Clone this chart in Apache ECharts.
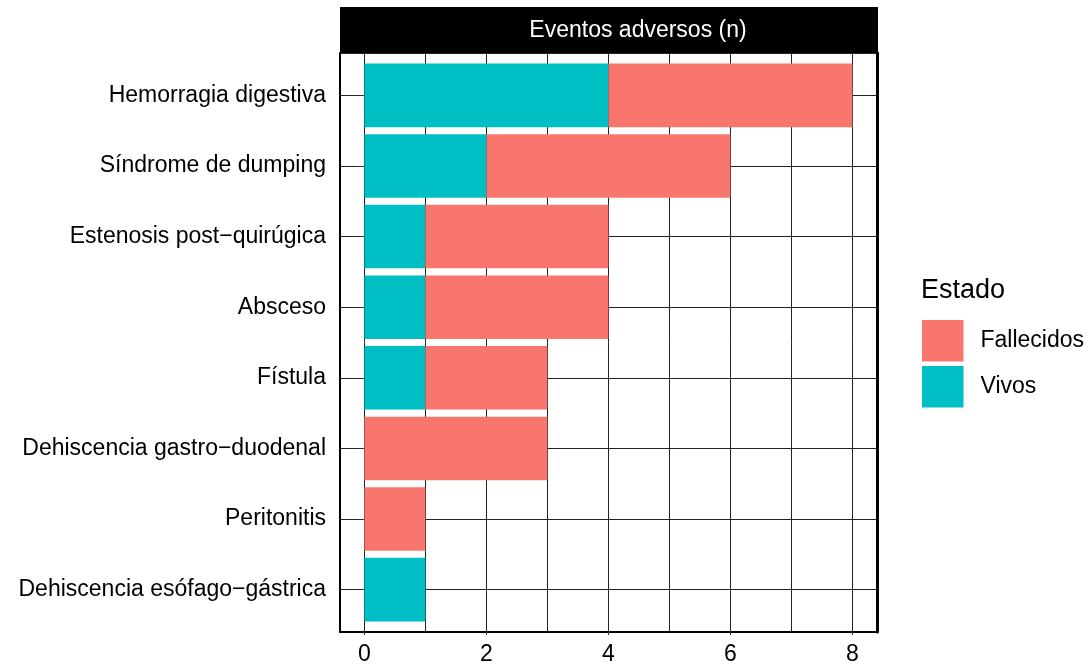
<!DOCTYPE html>
<html>
<head>
<meta charset="utf-8">
<script src="https://cdn.jsdelivr.net/npm/echarts@6/dist/echarts.min.js"></script>
<style>
html,body{margin:0;padding:0;background:#fff;}
#c{width:1089px;height:666px;}
</style>
</head>
<body>
<div id="c"></div>
<script>
const categories = ['Hemorragia digestiva','Síndrome de dumping','Estenosis post\u2212quirúgica','Absceso','Fístula','Dehiscencia gastro\u2212duodenal','Peritonitis','Dehiscencia esófago\u2212gástrica'];
const vivos = [4,2,1,1,1,0,0,1];
const fallecidos = [4,4,3,3,2,3,1,0];
const xTickValues = [0,2,4,6,8];
const stripTitle = 'Eventos adversos (n)';
const legendTitle = 'Estado';

const FONT = '"Liberation Sans", Arial, Helvetica, sans-serif';
const FS = 23;
const panelL = 340, panelT = 53, panelW = 536.8, panelH = 579;
const xMin = -0.4, xMax = 8.4;
const unitX = panelW / (xMax - xMin);
const yExpand = 0.6;
const unitY = panelH / (categories.length - 1 + 2 * yExpand);
const barsTop = panelT + (yExpand - 0.5) * unitY;
const barsH = categories.length * unitY;

const chart = echarts.init(document.getElementById('c'), null, {renderer: 'canvas'});
const option = {
  animation: false,
  backgroundColor: '#ffffff',
  textStyle: {fontFamily: FONT},
  grid: [
    {left: panelL, top: panelT, width: panelW, height: panelH, containLabel: false},
    {left: panelL, top: barsTop, width: panelW, height: barsH, containLabel: false},
    {left: panelL + (0 - xMin) * unitX, top: panelT, width: 8 * unitX, height: panelH, containLabel: false}
  ],
  xAxis: [
    {gridIndex: 0, type: 'value', min: xMin, max: xMax, minInterval: 1, maxInterval: 1,
     axisLine: {show: true, onZero: false, lineStyle: {color: '#000', width: 2}},
     axisTick: {show: false}, axisLabel: {show: false},
     splitLine: {show: true, lineStyle: {color: '#222', width: 1}}},
    {gridIndex: 1, type: 'value', min: xMin, max: xMax, show: false},
    {gridIndex: 2, type: 'value', min: xTickValues[0], max: xTickValues[xTickValues.length - 1], interval: 2, position: 'bottom',
     axisLine: {show: false},
     axisTick: {show: true, length: 6, lineStyle: {color: '#333', width: 1}},
     axisLabel: {show: true, fontSize: FS, color: '#000', margin: 14, fontFamily: FONT},
     splitLine: {show: false}}
  ],
  yAxis: [
    {gridIndex: 0, type: 'value', min: -yExpand, max: categories.length - 1 + yExpand, inverse: true,
     minInterval: 1, maxInterval: 1,
     axisLine: {show: true, onZero: false, lineStyle: {color: '#000', width: 2}},
     axisTick: {show: false}, axisLabel: {show: false},
     splitLine: {show: true, lineStyle: {color: '#222', width: 1}}},
    {gridIndex: 0, type: 'value', position: 'right', min: -yExpand, max: categories.length - 1 + yExpand,
     axisLine: {show: true, onZero: false, lineStyle: {color: '#000', width: 3}},
     axisTick: {show: false}, axisLabel: {show: false}, splitLine: {show: false}},
    {gridIndex: 1, type: 'category', data: categories, inverse: true,
     axisLine: {show: false},
     axisTick: {show: true, alignWithLabel: true, length: 7, lineStyle: {color: '#333', width: 1}},
     axisLabel: {show: true, fontSize: FS, color: '#000', margin: 14, fontFamily: FONT, padding: [4, 0, 0, 0]},
     splitLine: {show: false}},
    {gridIndex: 2, type: 'value', show: false}
  ],
  legend: {
    orient: 'vertical', left: 922, top: 320, padding: 0,
    itemWidth: 41.5, itemHeight: 41.5, itemGap: 4.5,
    icon: 'rect',
    data: ['Fallecidos', 'Vivos'],
    textStyle: {fontSize: FS, color: '#000', fontFamily: FONT, padding: [0, 0, 0, 12]}
  },
  graphic: [
    {type: 'rect', shape: {x: panelL, y: 7, width: 878 - panelL, height: panelT - 7}, style: {fill: '#000'}, z: 10},
    {type: 'text', x: 638, y: 31, z: 11, style: {text: stripTitle, fill: '#fff', font: FS + 'px ' + FONT, textAlign: 'center', textVerticalAlign: 'middle'}},
    {type: 'text', x: 921, y: 291, z: 11, style: {text: legendTitle, fill: '#000', font: '27px ' + FONT, textAlign: 'left', textVerticalAlign: 'middle'}}
  ],
  series: [
    {name: 'Vivos', type: 'bar', stack: 'n', xAxisIndex: 1, yAxisIndex: 2, data: vivos,
     barCategoryGap: '10%', itemStyle: {color: '#00BFC4'}},
    {name: 'Fallecidos', type: 'bar', stack: 'n', xAxisIndex: 1, yAxisIndex: 2, data: fallecidos,
     barCategoryGap: '10%', itemStyle: {color: '#F8766D'}}
  ]
};
chart.setOption(option);
</script>
</body>
</html>
